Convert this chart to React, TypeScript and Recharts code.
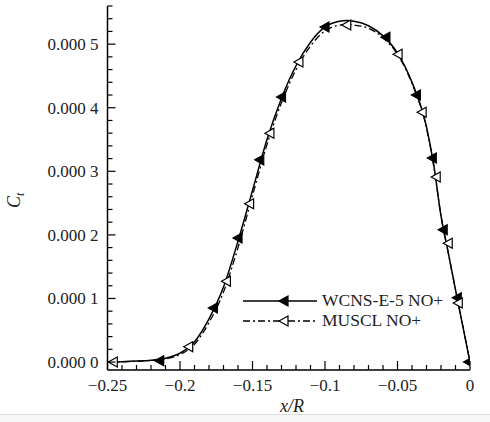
import React from 'react';
import { ComposedChart, Line, Scatter, XAxis, YAxis, Legend, Customized } from 'recharts';

// curve samples, y in units of 1e-4
const xValues = [-0.25, -0.24, -0.23, -0.22, -0.21, -0.2, -0.19, -0.18, -0.17, -0.16, -0.15, -0.14, -0.13, -0.12, -0.11, -0.1, -0.09, -0.085, -0.08, -0.07, -0.06, -0.05, -0.04, -0.03, -0.025, -0.02, -0.015, -0.01, -0.005, 0];
const wcnsValues = [0, 0.005, 0.015, 0.03, 0.06, 0.14, 0.32, 0.68, 1.18, 1.9, 2.7, 3.5, 4.15, 4.66, 5.03, 5.27, 5.36, 5.37, 5.36, 5.29, 5.13, 4.86, 4.4, 3.7, 3.1, 2.3, 1.72, 1.14, 0.57, 0];
const musclValues = [0, 0.004, 0.012, 0.025, 0.05, 0.12, 0.28, 0.62, 1.1, 1.8, 2.62, 3.42, 4.08, 4.6, 4.97, 5.21, 5.3, 5.31, 5.3, 5.25, 5.1, 4.84, 4.38, 3.68, 3.08, 2.3, 1.72, 1.14, 0.57, 0];

// marker positions
const wcnsMarkX = [-0.214, -0.177, -0.16, -0.145, -0.13, -0.1, -0.058, -0.037, -0.026, -0.0185, -0.0088, -0.001];
const wcnsMarkY = [0.02, 0.85, 1.95, 3.18, 4.17, 5.27, 5.11, 4.2, 3.21, 2.08, 1.01, 0];
const musclMarkX = [-0.246, -0.194, -0.168, -0.152, -0.138, -0.118, -0.085, -0.0496, -0.033, -0.0233, -0.015, -0.0081];
const musclMarkY = [0, 0.24, 1.27, 2.49, 3.6, 4.72, 5.3, 4.84, 3.93, 2.91, 1.87, 0.93];

const xTicks = [-0.25, -0.24, -0.23, -0.22, -0.21, -0.2, -0.19, -0.18, -0.17, -0.16, -0.15, -0.14, -0.13, -0.12, -0.11, -0.1, -0.09, -0.08, -0.07, -0.06, -0.05, -0.04, -0.03, -0.02, -0.01, 0];
const xMajorLabels = ['−0.25', '−0.2', '−0.15', '−0.1', '−0.05', '0'];
const yTicks = [0, 0.2, 0.4, 0.6, 0.8, 1, 1.2, 1.4, 1.6, 1.8, 2, 2.2, 2.4, 2.6, 2.8, 3, 3.2, 3.4, 3.6, 3.8, 4, 4.2, 4.4, 4.6, 4.8, 5, 5.2, 5.4, 5.6];
const yMajorLabels = ['0.000 0', '0.000 1', '0.000 2', '0.000 3', '0.000 4', '0.000 5'];

const seriesNames = ['WCNS-E-5 NO+', 'MUSCL NO+'];

const FONT = '"Liberation Serif", "Times New Roman", serif';

const wcnsLine = xValues.map((x, i) => ({ x, y: wcnsValues[i] }));
const musclLine = xValues.map((x, i) => ({ x, y: musclValues[i] }));
const wcnsMarks = wcnsMarkX.map((x, i) => ({ x, y: wcnsMarkY[i] }));
const musclMarks = musclMarkX.map((x, i) => ({ x, y: musclMarkY[i] }));

const Triangle = ({ cx, cy, filled }: { cx: number; cy: number; filled: boolean }) => (
  <polygon
    points={`${cx - 5},${cy} ${cx + 4},${cy - 5} ${cx + 4},${cy + 5}`}
    fill={filled ? '#000' : '#fff'}
    stroke="#000"
    strokeWidth={1.2}
  />
);

const XTick = (props: any) => {
  const { x, y, payload } = props;
  const k = Math.round(payload.value * 20);
  const major = Math.abs(payload.value * 20 - k) < 1e-6;
  return (
    <g>
      <line x1={x} y1={y} x2={x} y2={y - (major ? 9 : 5)} stroke="#000" strokeWidth={1.2} />
      {major && (
        <text x={x} y={y + 21} textAnchor="middle" fontFamily={FONT} fontSize={17} fill="#222">
          {xMajorLabels[k + 5]}
        </text>
      )}
    </g>
  );
};

const YTick = (props: any) => {
  const { x, y, payload } = props;
  const k = Math.round(payload.value);
  const major = Math.abs(payload.value - k) < 1e-6;
  return (
    <g>
      <line x1={x} y1={y} x2={x + (major ? 8 : 5)} y2={y} stroke="#000" strokeWidth={1.2} />
      {major && (
        <text x={x - 9} y={y + 6} textAnchor="end" fontFamily={FONT} fontSize={17} fill="#222">
          {yMajorLabels[k]}
        </text>
      )}
    </g>
  );
};

const LegendBox = () => (
  <svg width={230} height={44} style={{ display: 'block' }}>
    <line x1={3} y1={11} x2={77} y2={11} stroke="#000" strokeWidth={1.5} />
    <Triangle cx={44} cy={11} filled={true} />
    <text x={82} y={16} fontFamily={FONT} fontSize={17.5} fill="#222">{seriesNames[0]}</text>
    <line x1={3} y1={31} x2={77} y2={31} stroke="#000" strokeWidth={1.3} strokeDasharray="7 3 2 3" />
    <Triangle cx={44} cy={31} filled={false} />
    <text x={82} y={36} fontFamily={FONT} fontSize={17.5} fill="#222">{seriesNames[1]}</text>
  </svg>
);

const Labels = () => (
  <g>
    <text x={292} y={412} textAnchor="middle" fontFamily={FONT} fontSize={18} fontStyle="italic" fill="#222">
      x/R
    </text>
    <text transform="translate(20,208) rotate(-90)" fontFamily={FONT} fontSize={18} fontStyle="italic" fill="#222">
      C<tspan fontSize={12} dy={4}>t</tspan>
    </text>
    <rect x={0} y={414} width={490} height={1} fill="#dcdcdc" />
    <rect x={0} y={415} width={490} height={7} fill="#f7f7f7" />
  </g>
);

export default function App() {
  return (
    <div style={{ position: 'absolute', left: 0, top: 0, width: 490, height: 422, background: '#fff' }}>
      <ComposedChart width={490} height={422} margin={{ top: 6, right: 20, bottom: 0, left: 0 }}>
        <XAxis
          dataKey="x"
          type="number"
          domain={[-0.25, 0]}
          ticks={xTicks}
          interval={0}
          height={52}
          tickSize={0}
          tickMargin={0}
          tickLine={false}
          tick={<XTick />}
          axisLine={{ stroke: '#000', strokeWidth: 1.5 }}
          allowDataOverflow
        />
        <YAxis
          dataKey="y"
          type="number"
          domain={[-0.125, 5.6]}
          ticks={yTicks}
          interval={0}
          width={107.5}
          tickSize={0}
          tickMargin={0}
          tickLine={false}
          tick={<YTick />}
          axisLine={{ stroke: '#000', strokeWidth: 1.5 }}
          allowDataOverflow
        />
        <Line data={wcnsLine} dataKey="y" type="monotone" stroke="#000" strokeWidth={1.5} dot={false} isAnimationActive={false} />
        <Line data={musclLine} dataKey="y" type="monotone" stroke="#000" strokeWidth={1.3} strokeDasharray="7 3 2 3" dot={false} isAnimationActive={false} />
        <Scatter data={wcnsMarks} dataKey="y" shape={(p: any) => <Triangle cx={p.cx} cy={p.cy} filled={true} />} isAnimationActive={false} />
        <Scatter data={musclMarks} dataKey="y" shape={(p: any) => <Triangle cx={p.cx} cy={p.cy} filled={false} />} isAnimationActive={false} />
        <Legend
          layout="horizontal"
          verticalAlign="middle"
          align="center"
          content={<LegendBox />}
          wrapperStyle={{ left: 240, top: 290, width: 230, height: 44 }}
        />
        <Customized component={<Labels />} />
      </ComposedChart>
    </div>
  );
}
